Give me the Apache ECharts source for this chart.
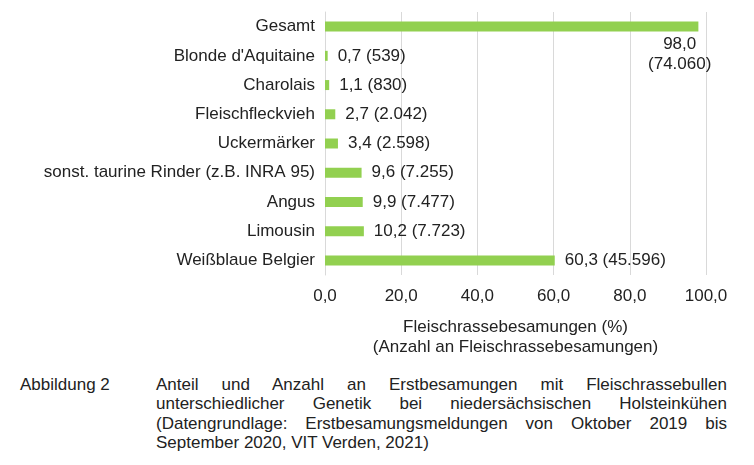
<!DOCTYPE html>
<html>
<head>
<meta charset="utf-8">
<script src="https://cdn.jsdelivr.net/npm/echarts@6/dist/echarts.min.js"></script>
<style>
    html, body { margin: 0; padding: 0; background: #fff; }
    #chart { position: absolute; left: 0; top: 0; width: 754px; height: 362px; }
    .caption {
        position: absolute; top: 375px; left: 0; width: 754px;
        font-family: 'Liberation Sans', Arial, sans-serif;
        font-size: 17px; line-height: 19.4px; color: #222;
    }
    .caption .lab { position: absolute; left: 20px; top: 0; }
    .caption .txt { position: absolute; left: 156px; width: 571px; }
    .caption .txt div { text-align: justify; text-align-last: justify; white-space: nowrap; }
    .caption .txt div.last { text-align-last: left; }
</style>
</head>
<body>
<div id="chart"></div>
<div class="caption">
    <div class="lab">Abbildung 2</div>
    <div class="txt">
        <div>Anteil und Anzahl an Erstbesamungen mit Fleischrassebullen</div>
        <div>unterschiedlicher Genetik bei niedersächsischen Holsteinkühen</div>
        <div>(Datengrundlage: Erstbesamungsmeldungen von Oktober 2019 bis</div>
        <div class="last">September 2020, VIT Verden, 2021)</div>
    </div>
</div>
<script>
    var categories = ['Gesamt', "Blonde d'Aquitaine", 'Charolais', 'Fleischfleckvieh', 'Uckermärker',
        'sonst. taurine Rinder (z.B. INRA 95)', 'Angus', 'Limousin', 'Weißblaue Belgier'];
    var percent = [98.0, 0.7, 1.1, 2.7, 3.4, 9.6, 9.9, 10.2, 60.3];
    var counts = ['74.060', '539', '830', '2.042', '2.598', '7.255', '7.477', '7.723', '45.596'];
    var xTicks = [0, 20, 40, 60, 80, 100];

    var font = "'Liberation Sans', Arial, sans-serif";
    var textColor = '#222';

    function fmt(v) {
        return v.toFixed(1).replace('.', ',');
    }

    var seriesData = [];
    for (var i = 0; i < percent.length; i++) {
        var item = { value: percent[i] };
        if (i === 0) {
            // Gesamt: Beschriftung unter dem Balkenende, zweizeilig
            item.label = {
                position: ['95%', 13],
                align: 'center',
                verticalAlign: 'top',
                lineHeight: 20,
                formatter: function(p) {
                    return fmt(p.value) + '\n(' + counts[p.dataIndex] + ')';
                }
            };
        }
        seriesData.push(item);
    }

    var myChart = echarts.init(document.getElementById('chart'));
    var option = {
        animation: false,
        grid: { left: 325, right: 48, top: 12, height: 263 },
        xAxis: {
            type: 'value',
            min: xTicks[0],
            max: xTicks[xTicks.length - 1],
            interval: 20,
            axisLine: { show: false },
            axisTick: { show: false },
            splitLine: { lineStyle: { color: '#d9d9d9' } },
            axisLabel: {
                margin: 13,
                fontFamily: font, fontSize: 17, color: textColor,
                formatter: function(v) { return fmt(v); }
            },
            name: 'Fleischrassebesamungen (%)\n(Anzahl an Fleischrassebesamungen)',
            nameLocation: 'middle',
            nameGap: 43,
            nameTextStyle: { fontFamily: font, fontSize: 17, color: textColor, lineHeight: 19.5 }
        },
        yAxis: {
            type: 'category',
            data: categories,
            inverse: true,
            axisLine: { lineStyle: { color: '#d9d9d9' } },
            axisTick: { length: 4, lineStyle: { color: '#d9d9d9' } },
            axisLabel: { margin: 10, fontFamily: font, fontSize: 17, color: textColor }
        },
        series: [{
            type: 'bar',
            data: seriesData,
            barWidth: 10,
            itemStyle: { color: '#92D050' },
            label: {
                show: true,
                position: 'right',
                distance: 10,
                fontFamily: font, fontSize: 17, color: textColor,
                formatter: function(p) {
                    return fmt(p.value) + ' (' + counts[p.dataIndex] + ')';
                }
            }
        }]
    };
    myChart.setOption(option);
</script>
</body>
</html>
